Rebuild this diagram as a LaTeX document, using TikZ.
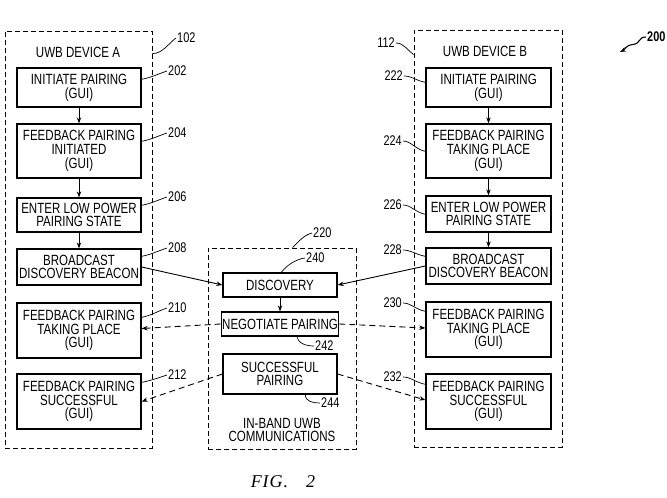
\documentclass[tikz,border=0pt]{standalone}
\usepackage{fontspec}
\setmainfont{Liberation Sans}[FakeStretch=0.78]
\newfontfamily\figfont{Liberation Serif}
\usetikzlibrary{arrows.meta,calc}
\begin{document}
\begin{tikzpicture}[x=1pt,y=-1pt,
  box/.style={draw,line width=1.3pt,align=center,inner sep=1pt,font=\fontsize{14.8}{13.8}\selectfont},
  abox/.style={box,minimum width=124pt},
  bbox/.style={box,minimum width=125pt},
  mbox/.style={box,minimum width=114pt},
  cont/.style={draw,dash pattern=on 5pt off 3pt,line width=0.8pt},
  num/.style={font=\fontsize{14}{14}\selectfont,inner sep=1pt},
  txt/.style={font=\fontsize{14.8}{13.8}\selectfont,align=center,inner sep=0pt},
  leader/.style={line width=0.7pt},
  arr/.style={-{Stealth[length=6pt,width=4.5pt]},line width=0.9pt},
  darr/.style={arr,dash pattern=on 6pt off 4pt}]
\useasboundingbox[fill=white] (0,0) rectangle (667,498);

% containers
\node[cont,minimum width=147pt,minimum height=417pt] (devA) at (78.5,239.5) {};
\node[cont,minimum width=148pt,minimum height=417pt] (devB) at (488,238.5) {};
\node[cont,minimum width=148pt,minimum height=201pt] (mid) at (282,348.5) {};

\node[txt] (tA) at (78,52) {UWB DEVICE A};
\node[txt] (tB) at (485,51) {UWB DEVICE B};
\node[txt] (tM) at (282,430) {IN-BAND UWB\\COMMUNICATIONS};

% device A boxes
\node[abox,minimum height=39pt] (a202) at (79,87.5) {INITIATE PAIRING\\(GUI)};
\node[abox,minimum height=54pt] (a204) at (79,151) {FEEDBACK PAIRING\\INITIATED\\(GUI)};
\node[abox,minimum height=34pt] (a206) at (79,215) {ENTER LOW POWER\\PAIRING STATE};
\node[abox,minimum height=36pt] (a208) at (79,267) {BROADCAST\\DISCOVERY BEACON};
\node[abox,minimum height=55pt] (a210) at (79,330.5) {FEEDBACK PAIRING\\TAKING PLACE\\(GUI)};
\node[abox,minimum height=55pt] (a212) at (79,401.5) {FEEDBACK PAIRING\\SUCCESSFUL\\(GUI)};

% device B boxes
\node[bbox,minimum height=39pt] (b222) at (488.5,87.5) {INITIATE PAIRING\\(GUI)};
\node[bbox,minimum height=54pt] (b224) at (488.5,151) {FEEDBACK PAIRING\\TAKING PLACE\\(GUI)};
\node[bbox,minimum height=36pt] (b226) at (488.5,214) {ENTER LOW POWER\\PAIRING STATE};
\node[bbox,minimum height=36pt] (b228) at (488.5,266) {BROADCAST\\DISCOVERY BEACON};
\node[bbox,minimum height=55pt] (b230) at (488.5,329.5) {FEEDBACK PAIRING\\TAKING PLACE\\(GUI)};
\node[bbox,minimum height=55pt] (b232) at (488.5,401.5) {FEEDBACK PAIRING\\SUCCESSFUL\\(GUI)};

% middle boxes
\node[mbox,minimum height=24pt] (disc) at (280,285) {DISCOVERY};
\node[mbox,minimum height=24pt] (neg) at (280,324) {NEGOTIATE PAIRING};
\node[mbox,minimum height=40pt] (succ) at (280,374) {SUCCESSFUL\\PAIRING};

% vertical arrows
\draw[arr] (a202) -- (a204);
\draw[arr] (a204) -- (a206);
\draw[arr] (a206) -- (a208);
\draw[arr] (b222) -- (b224);
\draw[arr] (b224) -- (b226);
\draw[arr] (b226) -- (b228);
\draw[arr] (disc) -- (neg);

% cross arrows
\draw[arr] (a208.east) -- (disc.west);
\draw[arr] (b228.west) -- (disc.east);
\draw[darr] (neg.west) -- ($(a210.east)+(0,-2)$);
\draw[darr] (neg.east) -- ($(b230.west)+(0,-1.5)$);
\draw[darr] (succ.west) -- (a212.east);
\draw[darr] (succ.east) -- ($(b232.west)+(0,-1.5)$);

% reference numbers, A side
\node[num,anchor=west] (n102) at (176,38) {102};
\node[num,anchor=west] (n202) at (167,71) {202};
\node[num,anchor=west] (n204) at (167,133) {204};
\node[num,anchor=west] (n206) at (167,197) {206};
\node[num,anchor=west] (n208) at (167,248) {208};
\node[num,anchor=west] (n210) at (167,308) {210};
\node[num,anchor=west] (n212) at (167,375) {212};
\draw[leader] ($(devA.north east)+(0,23)$) .. controls +(10,0) and +(-8,6) .. (n102.west);
\draw[leader] ($(a202.north east)+(0,12)$) .. controls +(10,-2) and +(-9,3) .. (n202.west);
\draw[leader] ($(a204.north east)+(0,18)$) .. controls +(10,-2) and +(-9,3) .. (n204.west);
\draw[leader] ($(a206.north east)+(0,8)$) .. controls +(10,-2) and +(-9,3) .. (n206.west);
\draw[leader] ($(a208.north east)+(0,8)$) .. controls +(10,-2) and +(-9,3) .. (n208.west);
\draw[leader] ($(a210.north east)+(0,15)$) .. controls +(10,-2) and +(-9,3) .. (n210.west);
\draw[leader] ($(a212.north east)+(0,9)$) .. controls +(10,-2) and +(-9,3) .. (n212.west);

% reference numbers, B side
\node[num,anchor=east] (n112) at (396,43) {112};
\node[num,anchor=east] (n222) at (404,76) {222};
\node[num,anchor=east] (n224) at (403,141) {224};
\node[num,anchor=east] (n226) at (403,205) {226};
\node[num,anchor=east] (n228) at (403,250) {228};
\node[num,anchor=east] (n230) at (403,303) {230};
\node[num,anchor=east] (n232) at (403,377) {232};
\draw[leader] (n112.east) .. controls +(8,0) and +(-6,-4) .. ($(devB.north west)+(0,25)$);
\draw[leader] (n222.east) .. controls +(8,0) and +(-10,-2) .. ($(b222.north west)+(0,15)$);
\draw[leader] (n224.east) .. controls +(8,0) and +(-10,-2) .. ($(b224.north west)+(0,28)$);
\draw[leader] (n226.east) .. controls +(8,0) and +(-10,-2) .. ($(b226.north west)+(0,19)$);
\draw[leader] (n228.east) .. controls +(8,0) and +(-10,-2) .. ($(b228.north west)+(0,9)$);
\draw[leader] (n230.east) .. controls +(8,0) and +(-10,-2) .. ($(b230.north west)+(0,10)$);
\draw[leader] (n232.east) .. controls +(8,0) and +(-10,-2) .. ($(b232.north west)+(0,11)$);

% reference numbers, middle
\node[num,anchor=west] (n220) at (312,233) {220};
\node[num,anchor=west] (n240) at (305,258) {240};
\node[num,anchor=west] (n242) at (314,346) {242};
\node[num,anchor=west] (n244) at (320,403) {244};
\draw[leader] ($(mid.north west)+(85,0)$) .. controls +(6,-6) and +(-8,2) .. (n220.west);
\draw[leader] ($(disc.north west)+(59,0)$) .. controls +(6,-8) and +(-8,1) .. (n240.west);
\draw[leader] ($(neg.south west)+(77,0)$) .. controls +(0,7) and +(-7,0) .. (n242.west);
\draw[leader] ($(succ.south west)+(83,0)$) .. controls +(0,7) and +(-7,0) .. (n244.west);

% figure number
\node[num,anchor=west,font=\fontsize{14}{14}\bfseries] (n200) at (646,37) {200};
\coordinate (t200) at (620,52);
\draw[arr,line width=1.1pt] (n200.west) .. controls +(-8,0) and +(8,-1) .. ($(n200.west)!0.5!(t200)$) .. controls +(-8,1) and +(6,-3) .. (t200);

\node[inner sep=0pt] (fig) at (283,482) {\figfont\itshape\fontsize{18}{18}\selectfont F\kern1pt I\kern1pt G\kern1pt.\kern18pt 2};
\end{tikzpicture}
\end{document}
